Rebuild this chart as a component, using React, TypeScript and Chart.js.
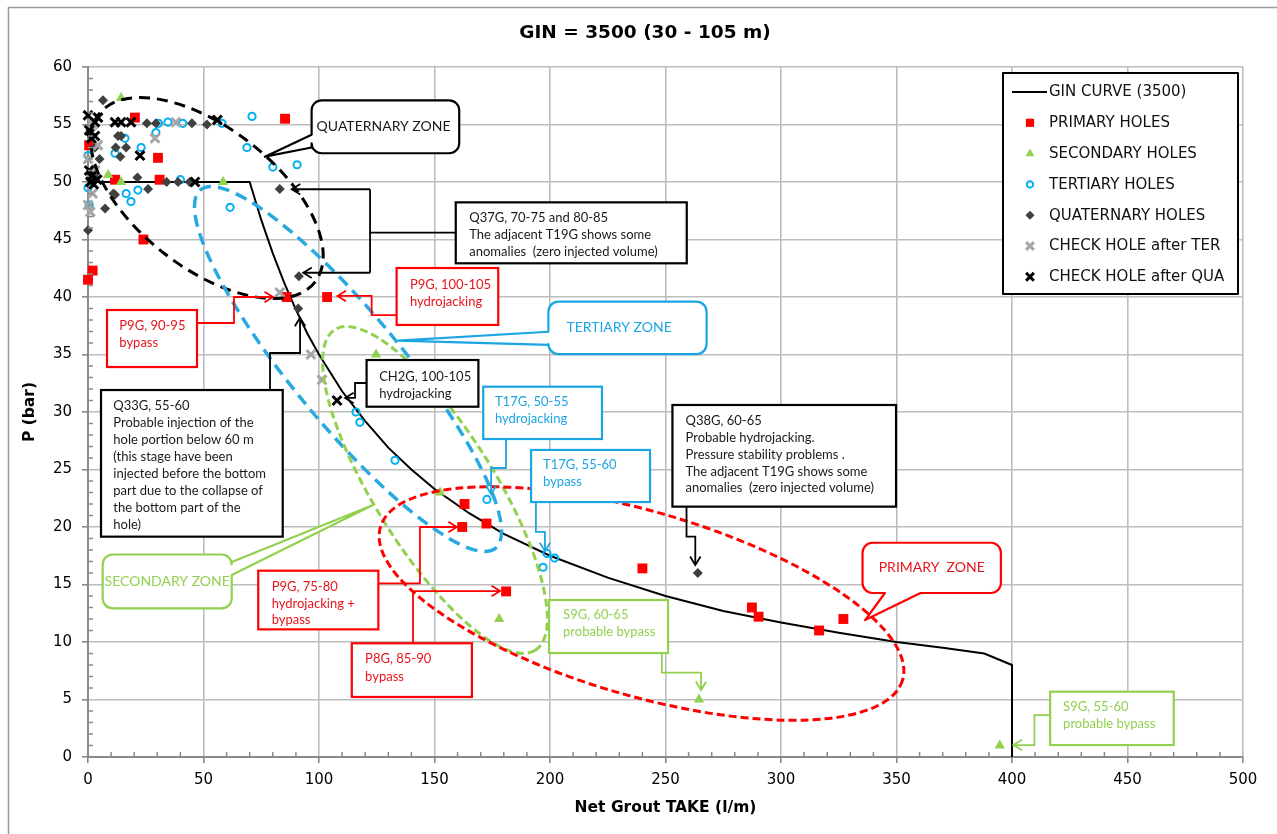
import React, { useEffect, useRef } from 'react';
import { Chart, registerables } from 'chart.js';
import { drawPoint } from 'chart.js/helpers';

Chart.register(...registerables);

// ---------------- data ----------------
const TITLE = 'GIN = 3500 (30 - 105 m)';
const X_TITLE = 'Net Grout TAKE (l/m)';
const Y_TITLE = 'P (bar)';
const X_MIN = 0, X_MAX = 500, X_STEP = 50, X_MINOR = 10;
const Y_MIN = 0, Y_MAX = 60, Y_STEP = 5, Y_MINOR = 1;

const SERIES_LABELS = [
  'GIN CURVE (3500)',
  'PRIMARY HOLES',
  'SECONDARY HOLES',
  'TERTIARY HOLES',
  'QUATERNARY HOLES',
  'CHECK HOLE after TER',
  'CHECK HOLE after QUA',
];

const GIN_CURVE: [number, number][] = [
  [0, 50], [70, 50], [75, 46.7], [80, 43.8], [85, 41.2], [90, 38.9], [95, 36.8], [100, 35],
  [110, 31.8], [120, 29.2], [130, 26.9], [140, 25], [150, 23.3], [165, 21.2], [180, 19.4],
  [200, 17.5], [225, 15.6], [250, 14], [275, 12.7], [300, 11.7], [325, 10.8], [350, 10],
  [370, 9.5], [388, 9], [400, 8], [400, 0],
];

const PRIMARY: [number, number][] = [
  [0, 41.5], [2, 42.3], [24, 45], [30.3, 52.1], [31, 50.2], [11.7, 50.2], [20.3, 55.6], [0.5, 53.2],
  [85.3, 55.5], [86, 40], [103.5, 40], [163, 22], [162, 20], [172.5, 20.3], [181, 14.4],
  [240, 16.4], [287.4, 13], [290.3, 12.2], [316.5, 11], [327, 12],
];

const SECONDARY: [number, number][] = [
  [14.3, 57.3], [8.7, 50.6], [14.3, 50], [58.5, 50], [124.7, 35], [152.4, 23], [178, 12],
  [264.5, 5], [394.7, 1],
];

const TERTIARY: [number, number][] = [
  [0, 49.5], [0, 52.3], [0.5, 48], [11.7, 52.5], [16, 53.8], [23, 53], [29.4, 54.3], [30.5, 55.1],
  [34.6, 55.2], [41, 55.1], [58, 55.1], [71, 55.7], [68.8, 53], [80, 51.3], [90.5, 51.5],
  [40, 50.2], [21.6, 49.3], [16.5, 49], [18.6, 48.3], [61.5, 47.8], [116, 30], [117.7, 29.1],
  [132.9, 25.8], [172.7, 22.4], [197, 16.5], [202, 17.3], [198.7, 17.7],
];

const QUATERNARY: [number, number][] = [
  [6.5, 57.1], [25.5, 55.1], [29.4, 55.1], [45, 55.1], [51.5, 55], [13, 54], [14.3, 54], [12, 53],
  [16.5, 53], [14, 52.2], [11.7, 48.9], [21.4, 50.4], [26, 49.4], [34, 50], [39, 50], [44, 50],
  [7.4, 47.7], [0, 45.8], [11, 49], [2, 51], [3, 53], [1, 54.5], [4, 50.5], [5, 52],
  [83, 49.4], [91.3, 41.8], [91, 39], [264, 16],
];

const CHECK_TER: [number, number][] = [
  [0, 48], [1, 47.4], [2, 49], [3, 51], [4.3, 53.2], [0, 52], [2, 55], [29, 53.8], [38, 55.2],
  [83, 40.4], [96.5, 35], [101.3, 32.8],
];

const CHECK_QUA: [number, number][] = [
  [0, 55.8], [3, 55.2], [4.3, 55.6], [11.7, 55.2], [14.3, 55.2], [18.6, 55.2], [22.5, 52.3],
  [56, 55.4], [46.3, 50], [0.5, 54.5], [1.5, 53.8], [3, 54], [0.5, 51], [1.5, 50.5], [2.5, 49.8],
  [4, 50.2], [1, 50], [107.8, 31],
];

// ---------------- annotations (data coordinates) ----------------
const C_BLACK = '#1a1a1a';
const C_RED = '#ff0000';
const C_RED_TXT = '#e8141b';
const C_BLUE = '#1ba5e3';
const C_GREEN = '#92d050';

type P = [number, number];

const ZONE_ELLIPSES = [
  { p1: [4.76, 55.91] as P, p2: [98.27, 41.3] as P, b: 70, color: '#000000', width: 3, dash: [11, 7] },
  { p1: [48.66, 49.31] as P, p2: [176.45, 18.17] as P, b: 55, color: '#29a9e1', width: 3.5, dash: [12, 7] },
  { p1: [106.84, 37.16] as P, p2: [193.59, 9.28] as P, b: 60, color: C_GREEN, width: 3, dash: [8, 4] },
  { p1: [126.58, 19.99] as P, p2: [352.64, 6.7] as P, b: 92, color: C_RED, width: 3, dash: [8, 4] },
];

const ZONE_CALLOUTS = [
  { box: [96.8, 57.1, 160.7, 52.5], side: 'left', b1: [96.8, 54.1] as P, b2: [96.8, 53.0] as P, tip: [76.6, 52.2] as P,
    text: 'QUATERNARY ZONE', color: '#000000', textColor: C_BLACK, align: 'left', pad: 5 },
  { box: [199.3, 39.59, 267.8, 35.04], side: 'left', b1: [199.3, 36.98] as P, b2: [199.3, 35.83] as P, tip: [134.3, 36.2] as P,
    text: 'TERTIARY ZONE', color: C_BLUE, textColor: C_BLUE, align: 'left', pad: 18 },
  { box: [335.3, 18.63, 395.2, 14.26], side: 'bottom', b1: [345.0, 14.26] as P, b2: [360.4, 14.26] as P, tip: [336.4, 11.91] as P,
    text: 'PRIMARY  ZONE', color: C_RED, textColor: C_RED_TXT, align: 'center', pad: 0 },
  { box: [6.36, 17.61, 62.21, 12.93], side: 'right', b1: [62.21, 16.96] as P, b2: [62.21, 15.83] as P, tip: [123.4, 21.91] as P,
    text: 'SECONDARY ZONE', color: C_GREEN, textColor: C_GREEN, align: 'center', pad: 0 },
];

const NOTE_BOXES = [
  { box: [159.2, 48.23, 259.2, 42.93], color: '#000000', textColor: C_BLACK, pad: 13.5, first: 15.4, lh: 17,
    lines: ['Q37G, 70-75 and 80-85', 'The adjacent T19G shows some', 'anomalies  (zero injected volume)'] },
  { box: [133.6, 42.52, 177.6, 37.57], color: C_RED, textColor: C_RED_TXT, pad: 13.3, first: 17, lh: 16.7,
    lines: ['P9G, 100-105', 'hydrojacking'] },
  { box: [8.23, 38.87, 47.19, 33.91], color: C_RED, textColor: C_RED_TXT, pad: 12.3, first: 16, lh: 17.3,
    lines: ['P9G, 90-95', 'bypass'] },
  { box: [120.6, 34.52, 169.0, 30.46], color: '#000000', textColor: C_BLACK, pad: 12.6, first: 16.7, lh: 16.6,
    lines: ['CH2G, 100-105', 'hydrojacking'] },
  { box: [5.63, 31.91, 84.29, 19.16], color: '#000000', textColor: C_BLACK, pad: 12.3, first: 16, lh: 17,
    lines: ['Q33G, 55-60', 'Probable injection of the', 'hole portion below 60 m', '(this stage have been',
      'injected before the bottom', 'part due to the collapse of', 'the bottom part of the', 'hole)'] },
  { box: [171.1, 32.2, 222.5, 27.65], color: C_BLUE, textColor: C_BLUE, pad: 11.7, first: 15.3, lh: 17,
    lines: ['T17G, 50-55', 'hydrojacking'] },
  { box: [191.8, 26.7, 243.3, 22.17], color: C_BLUE, textColor: C_BLUE, pad: 12, first: 15, lh: 17,
    lines: ['T17G, 55-60', 'bypass'] },
  { box: [253.0, 30.61, 349.8, 21.77], color: '#000000', textColor: C_BLACK, pad: 13.1, first: 15.7, lh: 16.9,
    lines: ['Q38G, 60-65', 'Probable hydrojacking.', 'Pressure stability problems .', 'The adjacent T19G shows some',
      'anomalies  (zero injected volume)'] },
  { box: [73.7, 16.2, 125.7, 11.1], color: C_RED, textColor: C_RED_TXT, pad: 13.4, first: 16, lh: 16.7,
    lines: ['P9G, 75-80', 'hydrojacking +', 'bypass'] },
  { box: [114.2, 9.89, 166.2, 5.22], color: C_RED, textColor: C_RED_TXT, pad: 13.3, first: 15.7, lh: 18,
    lines: ['P8G, 85-90', 'bypass'] },
  { box: [199.6, 13.65, 251.1, 9.04], color: C_GREEN, textColor: C_GREEN, pad: 14, first: 15, lh: 17,
    lines: ['S9G, 60-65', 'probable bypass'] },
  { box: [416.5, 5.68, 470.0, 1.04], color: C_GREEN, textColor: C_GREEN, pad: 13, first: 15, lh: 17.6,
    lines: ['S9G, 55-60', 'probable bypass'] },
];

const CONNECTORS = [
  { pts: [[159.2, 45.59], [122.1, 45.59]] as P[], color: '#000000', arrow: false },
  { pts: [[122.1, 49.37], [122.1, 42.11]] as P[], color: '#000000', arrow: false },
  { pts: [[122.1, 49.37], [88.2, 49.37]] as P[], color: '#000000', arrow: true },
  { pts: [[122.1, 42.11], [93.2, 42.11]] as P[], color: '#000000', arrow: true },
  { pts: [[133.6, 38.43], [122.8, 38.43], [122.8, 40.09], [108, 40.09]] as P[], color: C_RED, arrow: true },
  { pts: [[47.19, 37.74], [63.2, 37.74], [63.2, 40.0], [80.1, 40.0]] as P[], color: C_RED, arrow: true },
  { pts: [[120.6, 32.52], [115.6, 32.52], [115.6, 31.22], [111.3, 31.22]] as P[], color: '#000000', arrow: true },
  { pts: [[78.8, 31.91], [78.8, 35.13], [91.8, 35.13], [91.8, 38.2]] as P[], color: '#000000', arrow: true },
  { pts: [[180.95, 27.65], [180.95, 25.13], [174.5, 25.13], [174.5, 22.87]] as P[], color: C_BLUE, arrow: true },
  { pts: [[193.9, 22.17], [193.9, 19.57], [197.8, 19.57], [197.8, 17.9]] as P[], color: C_BLUE, arrow: true },
  { pts: [[259.1, 21.77], [259.1, 19.16], [262.9, 19.16], [262.9, 16.7]] as P[], color: '#000000', arrow: true },
  { pts: [[125.7, 15.1], [143.7, 15.1], [143.7, 20.0], [159.7, 20.0]] as P[], color: C_RED, arrow: true },
  { pts: [[140.7, 9.89], [140.7, 14.43], [178.4, 14.43]] as P[], color: C_RED, arrow: true },
  { pts: [[248.4, 9.04], [248.4, 7.33], [265.4, 7.33], [265.4, 5.83]] as P[], color: C_GREEN, arrow: true },
  { pts: [[416.5, 3.65], [409.7, 3.65], [409.7, 1.04], [400.6, 1.04]] as P[], color: C_GREEN, arrow: true },
];

const NOTE_FONT = '13px Lato';
const ZONE_FONT = '14px Lato';

// ---------------- helpers ----------------
const toXY = (arr: [number, number][]) => arr.map(([x, y]) => ({ x, y }));

function px(chart: any, p: P): [number, number] {
  return [chart.scales.x.getPixelForValue(p[0]), chart.scales.y.getPixelForValue(p[1])];
}

function arrowHead(ctx: CanvasRenderingContext2D, from: [number, number], to: [number, number]) {
  const ang = Math.atan2(to[1] - from[1], to[0] - from[0]);
  const len = 10, spread = 0.55;
  ctx.beginPath();
  ctx.moveTo(to[0] - len * Math.cos(ang - spread), to[1] - len * Math.sin(ang - spread));
  ctx.lineTo(to[0], to[1]);
  ctx.lineTo(to[0] - len * Math.cos(ang + spread), to[1] - len * Math.sin(ang + spread));
  ctx.stroke();
}

function calloutPath(ctx: CanvasRenderingContext2D, x1: number, y1: number, x2: number, y2: number, r: number,
  side: string, b1: [number, number], b2: [number, number], tip: [number, number]) {
  ctx.beginPath();
  ctx.moveTo(x1 + r, y1);
  ctx.lineTo(x2 - r, y1);
  ctx.arcTo(x2, y1, x2, y1 + r, r);
  if (side === 'right') {
    const [a, b] = b1[1] < b2[1] ? [b1, b2] : [b2, b1];
    ctx.lineTo(x2, a[1]); ctx.lineTo(tip[0], tip[1]); ctx.lineTo(x2, b[1]);
  }
  ctx.lineTo(x2, y2 - r);
  ctx.arcTo(x2, y2, x2 - r, y2, r);
  if (side === 'bottom') {
    const [a, b] = b1[0] > b2[0] ? [b1, b2] : [b2, b1];
    ctx.lineTo(a[0], y2); ctx.lineTo(tip[0], tip[1]); ctx.lineTo(b[0], y2);
  }
  ctx.lineTo(x1 + r, y2);
  ctx.arcTo(x1, y2, x1, y2 - r, r);
  if (side === 'left') {
    const [a, b] = b1[1] > b2[1] ? [b1, b2] : [b2, b1];
    ctx.lineTo(x1, a[1]); ctx.lineTo(tip[0], tip[1]); ctx.lineTo(x1, b[1]);
  }
  ctx.lineTo(x1, y1 + r);
  ctx.arcTo(x1, y1, x1 + r, y1, r);
  ctx.closePath();
}

const framePlugin = {
  id: 'frame',
  beforeDraw(chart: any) {
    const ctx = chart.ctx as CanvasRenderingContext2D;
    ctx.save();
    ctx.fillStyle = '#ffffff';
    ctx.fillRect(0, 0, chart.width, chart.height);
    ctx.strokeStyle = '#9c9c9c';
    ctx.lineWidth = 1.5;
    ctx.beginPath();
    ctx.moveTo(8.5, chart.height);
    ctx.lineTo(8.5, 7.5);
    ctx.lineTo(chart.width, 7.5);
    ctx.stroke();
    // title
    ctx.fillStyle = '#000000';
    ctx.font = 'bold 18.5px "DejaVu Sans"';
    ctx.textAlign = 'center';
    ctx.textBaseline = 'middle';
    ctx.fillText(TITLE, 645, 33);
    ctx.restore();
  },
  afterDraw(chart: any) {
    // minor ticks inside the axes
    const ctx = chart.ctx as CanvasRenderingContext2D;
    const xs = chart.scales.x, ys = chart.scales.y, ca = chart.chartArea;
    ctx.save();
    ctx.strokeStyle = '#8a8a8a';
    ctx.lineWidth = 1.5;
    ctx.beginPath();
    for (let v = X_MIN + X_MINOR; v < X_MAX; v += X_MINOR) {
      if (v % X_STEP === 0) continue;
      const x = xs.getPixelForValue(v);
      ctx.moveTo(x, ca.bottom); ctx.lineTo(x, ca.bottom - 5);
    }
    for (let v = Y_MIN + Y_MINOR; v < Y_MAX; v += Y_MINOR) {
      if (v % Y_STEP === 0) continue;
      const y = ys.getPixelForValue(v);
      ctx.moveTo(ca.left, y); ctx.lineTo(ca.left + 5, y);
    }
    ctx.stroke();
    ctx.restore();
  },
};

const annotationPlugin = {
  id: 'notes',
  afterDatasetsDraw(chart: any) {
    const ctx = chart.ctx as CanvasRenderingContext2D;
    ctx.save();
    // ellipses
    for (const e of ZONE_ELLIPSES) {
      const a = px(chart, e.p1), b = px(chart, e.p2);
      const cx = (a[0] + b[0]) / 2, cy = (a[1] + b[1]) / 2;
      const ra = Math.hypot(b[0] - a[0], b[1] - a[1]) / 2;
      const ang = Math.atan2(b[1] - a[1], b[0] - a[0]);
      ctx.beginPath();
      ctx.ellipse(cx, cy, ra, e.b, ang, 0, Math.PI * 2);
      ctx.strokeStyle = e.color;
      ctx.lineWidth = e.width;
      ctx.setLineDash(e.dash);
      ctx.stroke();
    }
    ctx.setLineDash([]);
    // connectors
    ctx.lineWidth = 1.8;
    for (const c of CONNECTORS) {
      const pts = c.pts.map((p) => px(chart, p));
      ctx.strokeStyle = c.color;
      ctx.beginPath();
      pts.forEach((p, i) => (i ? ctx.lineTo(p[0], p[1]) : ctx.moveTo(p[0], p[1])));
      ctx.stroke();
      if (c.arrow) arrowHead(ctx, pts[pts.length - 2], pts[pts.length - 1]);
    }
    // note boxes
    for (const n of NOTE_BOXES) {
      const [x1, y1] = px(chart, [n.box[0], n.box[1]]);
      const [x2, y2] = px(chart, [n.box[2], n.box[3]]);
      ctx.fillStyle = '#ffffff';
      ctx.fillRect(x1, y1, x2 - x1, y2 - y1);
      ctx.strokeStyle = n.color;
      ctx.lineWidth = 2.2;
      ctx.strokeRect(x1, y1, x2 - x1, y2 - y1);
      ctx.fillStyle = n.textColor;
      ctx.font = NOTE_FONT;
      ctx.textAlign = 'left';
      ctx.textBaseline = 'middle';
      n.lines.forEach((t, i) => ctx.fillText(t, x1 + n.pad, y1 + n.first + i * n.lh));
    }
    // zone callouts
    for (const z of ZONE_CALLOUTS) {
      const [x1, y1] = px(chart, [z.box[0], z.box[1]]);
      const [x2, y2] = px(chart, [z.box[2], z.box[3]]);
      calloutPath(ctx, x1, y1, x2, y2, 10, z.side, px(chart, z.b1), px(chart, z.b2), px(chart, z.tip));
      ctx.fillStyle = '#ffffff';
      ctx.fill();
      ctx.strokeStyle = z.color;
      ctx.lineWidth = 2.2;
      ctx.lineJoin = 'round';
      ctx.stroke();
      ctx.fillStyle = z.textColor;
      ctx.font = ZONE_FONT;
      ctx.textBaseline = 'middle';
      if (z.align === 'left') {
        ctx.textAlign = 'left';
        ctx.fillText(z.text, x1 + z.pad, (y1 + y2) / 2);
      } else {
        ctx.textAlign = 'center';
        ctx.fillText(z.text, (x1 + x2) / 2, (y1 + y2) / 2);
      }
    }
    // legend
    const ca = chart.chartArea;
    const lx = ca.right - 240, ly = ca.top + 6, lw = 235, lh = 221;
    ctx.fillStyle = '#ffffff';
    ctx.fillRect(lx, ly, lw, lh);
    ctx.strokeStyle = '#000000';
    ctx.lineWidth = 2;
    ctx.strokeRect(lx, ly, lw, lh);
    chart.data.datasets.forEach((ds: any, i: number) => {
      const cy = ly + 19 + i * 30.8;
      if (ds.showLine) {
        ctx.strokeStyle = ds.borderColor;
        ctx.lineWidth = 2;
        ctx.beginPath();
        ctx.moveTo(lx + 9, cy); ctx.lineTo(lx + 44, cy);
        ctx.stroke();
      } else {
        ctx.fillStyle = ds.pointBackgroundColor;
        ctx.strokeStyle = ds.pointBorderColor;
        ctx.lineWidth = ds.pointBorderWidth;
        drawPoint(ctx, { pointStyle: ds.pointStyle, radius: ds.legendRadius, rotation: 0, borderWidth: ds.pointBorderWidth } as any, lx + 27, cy);
      }
      ctx.fillStyle = '#111111';
      ctx.font = '15px "DejaVu Sans"';
      ctx.textAlign = 'left';
      ctx.textBaseline = 'middle';
      ctx.fillText(ds.label, lx + 46, cy + 0.5);
    });
    ctx.restore();
  },
};

function markerSet(label: string, data: [number, number][], style: string, radius: number, legendRadius: number,
  fill: string, stroke: string, bw: number, order: number) {
  return {
    label,
    data: toXY(data),
    showLine: false,
    pointStyle: style,
    pointRadius: radius,
    legendRadius,
    pointBackgroundColor: fill,
    pointBorderColor: stroke,
    pointBorderWidth: bw,
    backgroundColor: fill,
    borderColor: stroke,
    clip: false,
    order,
  };
}

export default function App() {
  const ref = useRef<HTMLCanvasElement>(null);
  useEffect(() => {
    document.body.style.margin = '0';
    const axisGrid = { color: '#bdbdbd', lineWidth: 1.6, tickLength: 6, tickColor: '#8a8a8a' };
    const chart = new Chart(ref.current as HTMLCanvasElement, {
      type: 'scatter',
      data: {
        datasets: [
          {
            label: SERIES_LABELS[0], data: toXY(GIN_CURVE), showLine: true, borderColor: '#000000',
            backgroundColor: '#000000', borderWidth: 2, pointRadius: 0, tension: 0, clip: false, order: 7,
          } as any,
          markerSet(SERIES_LABELS[1], PRIMARY, 'rect', 7, 5.8, '#ff0000', '#ff0000', 0, 6) as any,
          markerSet(SERIES_LABELS[2], SECONDARY, 'triangle', 6, 5.2, '#92d050', '#92d050', 0, 5) as any,
          markerSet(SERIES_LABELS[3], TERTIARY, 'circle', 3.6, 3.2, 'rgba(255,255,255,0)', '#00b0f0', 2, 4) as any,
          markerSet(SERIES_LABELS[4], QUATERNARY, 'rectRot', 5, 4.5, '#404040', '#404040', 0, 3) as any,
          markerSet(SERIES_LABELS[5], CHECK_TER, 'crossRot', 6.3, 5.5, '#a6a6a6', '#a6a6a6', 3, 2) as any,
          markerSet(SERIES_LABELS[6], CHECK_QUA, 'crossRot', 6.3, 5.5, '#000000', '#000000', 3, 1) as any,
        ],
      },
      options: {
        responsive: false,
        animation: false,
        events: [],
        layout: { padding: { top: 67, right: 34, left: 0, bottom: 0 } },
        plugins: {
          legend: { display: false },
          title: { display: false },
          tooltip: { enabled: false },
        },
        scales: {
          x: {
            type: 'linear',
            min: X_MIN,
            max: X_MAX,
            ticks: { stepSize: X_STEP, color: '#000000', font: { family: 'DejaVu Sans', size: 15 }, padding: 8 },
            grid: axisGrid,
            border: { color: '#8a8a8a', width: 2 },
            title: {
              display: true, text: X_TITLE, color: '#000000',
              font: { family: 'DejaVu Sans', size: 15.5, weight: 'bold' }, padding: { top: 0, bottom: 17 },
            },
            afterFit: (s: any) => { s.height = 77; },
          },
          y: {
            type: 'linear',
            min: Y_MIN,
            max: Y_MAX,
            ticks: { stepSize: Y_STEP, color: '#000000', font: { family: 'DejaVu Sans', size: 15 }, padding: 10 },
            grid: axisGrid,
            border: { color: '#8a8a8a', width: 2 },
            title: {
              display: true, text: Y_TITLE, color: '#000000',
              font: { family: 'DejaVu Sans', size: 15.5, weight: 'bold' }, padding: { top: 21, bottom: 0 },
            },
            afterFit: (s: any) => { s.width = 88; },
          },
        },
      } as any,
      plugins: [framePlugin, annotationPlugin],
    });
    return () => chart.destroy();
  }, []);
  return (
    <div style={{ width: 1277, height: 834 }}>
      <canvas ref={ref} width={1277} height={834} style={{ display: 'block', width: 1277, height: 834 }} />
    </div>
  );
}
